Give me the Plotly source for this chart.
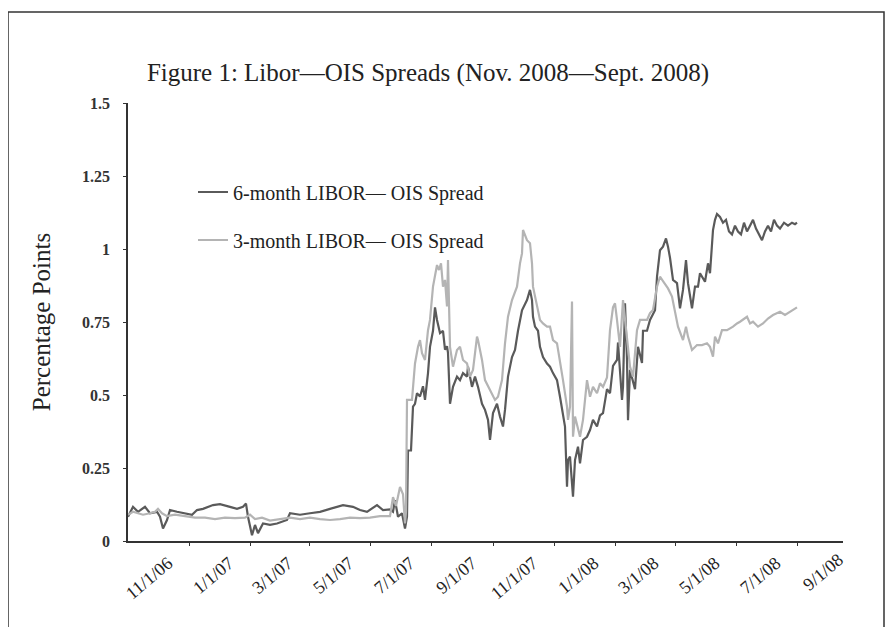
import plotly.graph_objects as go

# ---------------- data ----------------
dates_6m = [
    "2006-09-01", "2006-09-06", "2006-09-11", "2006-09-18", "2006-09-23", "2006-09-30",
    "2006-10-03", "2006-10-06", "2006-10-10", "2006-10-13", "2006-10-20", "2006-10-30",
    "2006-11-04", "2006-11-09", "2006-11-15", "2006-11-25", "2006-12-02", "2006-12-12",
    "2006-12-19", "2006-12-25", "2006-12-28", "2006-12-30", "2007-01-03", "2007-01-06",
    "2007-01-09", "2007-01-14", "2007-01-21", "2007-01-28", "2007-02-07", "2007-02-10",
    "2007-02-20", "2007-03-02", "2007-03-12", "2007-03-22", "2007-04-04", "2007-04-14",
    "2007-04-21", "2007-04-28", "2007-05-08", "2007-05-14", "2007-05-21", "2007-05-24",
    "2007-05-26", "2007-05-29", "2007-06-02", "2007-06-05", "2007-06-07", "2007-06-08",
    "2007-06-11", "2007-06-13", "2007-06-15", "2007-06-17", "2007-06-20", "2007-06-23",
    "2007-06-25", "2007-06-28", "2007-06-30", "2007-07-03", "2007-07-05", "2007-07-07",
    "2007-07-10", "2007-07-13", "2007-07-15", "2007-07-17", "2007-07-18", "2007-07-20",
    "2007-07-23", "2007-07-27", "2007-07-30", "2007-08-02", "2007-08-06", "2007-08-07",
    "2007-08-11", "2007-08-14", "2007-08-17", "2007-08-21", "2007-08-24", "2007-08-27",
    "2007-08-29", "2007-09-01", "2007-09-05", "2007-09-08", "2007-09-11", "2007-09-13",
    "2007-09-16", "2007-09-20", "2007-09-23", "2007-09-26", "2007-09-30", "2007-10-05",
    "2007-10-08", "2007-10-10", "2007-10-11", "2007-10-13", "2007-10-16", "2007-10-18",
    "2007-10-21", "2007-10-25", "2007-10-28", "2007-10-31", "2007-11-04", "2007-11-07",
    "2007-11-10", "2007-11-12", "2007-11-14", "2007-11-15", "2007-11-17", "2007-11-19",
    "2007-11-20", "2007-11-22", "2007-11-25", "2007-11-27", "2007-11-30", "2007-12-04",
    "2007-12-07", "2007-12-10", "2007-12-14", "2007-12-17", "2007-12-20", "2007-12-24",
    "2007-12-27", "2007-12-30", "2008-01-03", "2008-01-04", "2008-01-06", "2008-01-08",
    "2008-01-09", "2008-01-11", "2008-01-13", "2008-01-14", "2008-01-16", "2008-01-18",
    "2008-01-21", "2008-01-24", "2008-01-28", "2008-01-29", "2008-02-02", "2008-02-05",
    "2008-02-08", "2008-02-10", "2008-02-12", "2008-02-15", "2008-02-18", "2008-02-21",
    "2008-02-23", "2008-02-25", "2008-02-28", "2008-03-03", "2008-03-06", "2008-03-09",
    "2008-03-12", "2008-03-14", "2008-03-18", "2008-03-21", "2008-03-24", "2008-03-26",
    "2008-03-31", "2008-04-03", "2008-04-05", "2008-04-07", "2008-04-08", "2008-04-10",
    "2008-04-12", "2008-04-15", "2008-04-18", "2008-04-21", "2008-04-24", "2008-04-27",
    "2008-04-30", "2008-05-03", "2008-05-06", "2008-05-09", "2008-05-12", "2008-05-15",
    "2008-05-18", "2008-05-21", "2008-05-24", "2008-05-27", "2008-05-30", "2008-06-02",
    "2008-06-05", "2008-06-08", "2008-06-11", "2008-06-14", "2008-06-18", "2008-06-22",
    "2008-06-26", "2008-06-29", "2008-07-01",
]
spread_6m = [
    0.083, 0.117, 0.100, 0.117, 0.095, 0.100,
    0.083, 0.043, 0.072, 0.106, 0.100, 0.095,
    0.090, 0.106, 0.110, 0.123, 0.126, 0.117,
    0.110, 0.117, 0.128, 0.083, 0.020, 0.055,
    0.027, 0.060, 0.055, 0.060, 0.072, 0.095,
    0.090, 0.095, 0.100, 0.110, 0.123, 0.117,
    0.106, 0.100, 0.123, 0.106, 0.108, 0.100,
    0.140, 0.083, 0.095, 0.043, 0.083, 0.310,
    0.310, 0.460, 0.470, 0.506, 0.495, 0.530,
    0.483, 0.575, 0.665, 0.720, 0.800, 0.757,
    0.712, 0.720, 0.655, 0.667, 0.644, 0.470,
    0.528, 0.563, 0.551, 0.575, 0.563, 0.597,
    0.528, 0.563, 0.528, 0.470, 0.449, 0.415,
    0.346, 0.438, 0.470, 0.426, 0.392, 0.449,
    0.563, 0.630, 0.654, 0.720, 0.790, 0.825,
    0.860, 0.825, 0.768, 0.734, 0.720, 0.665,
    0.630, 0.608, 0.597, 0.575, 0.551, 0.494,
    0.437, 0.392, 0.186, 0.277, 0.289, 0.209,
    0.152, 0.277, 0.323, 0.266, 0.346, 0.357,
    0.380, 0.415, 0.392, 0.430, 0.438, 0.520,
    0.506, 0.600, 0.620, 0.680, 0.586, 0.483,
    0.528, 0.814, 0.620, 0.414, 0.586, 0.563,
    0.520, 0.665, 0.610, 0.720, 0.720, 0.757,
    0.780, 0.790, 0.905, 0.996, 1.008, 1.036,
    1.008, 0.970, 0.894, 0.883, 0.797, 0.860,
    0.962, 0.883, 0.797, 0.871, 0.871, 0.917,
    0.888, 0.951, 0.917, 0.996, 1.065, 1.100,
    1.120, 1.110, 1.090, 1.100, 1.060, 1.050,
    1.080, 1.060, 1.050, 1.090, 1.060, 1.080,
    1.100, 1.070, 1.050, 1.030, 1.060, 1.080,
    1.060, 1.100, 1.080, 1.070, 1.090, 1.080,
    1.090, 1.085, 1.090,
]

dates_3m = [
    "2006-09-01", "2006-09-06", "2006-09-11", "2006-09-16", "2006-09-23", "2006-09-28",
    "2006-10-01", "2006-10-05", "2006-10-10", "2006-10-18", "2006-10-28", "2006-11-07",
    "2006-11-17", "2006-11-27", "2006-12-07", "2006-12-17", "2006-12-27", "2007-01-01",
    "2007-01-06", "2007-01-13", "2007-01-21", "2007-01-31", "2007-02-10", "2007-02-20",
    "2007-03-02", "2007-03-12", "2007-03-22", "2007-04-01", "2007-04-11", "2007-04-21",
    "2007-05-01", "2007-05-11", "2007-05-21", "2007-05-24", "2007-05-27", "2007-05-31",
    "2007-06-03", "2007-06-05", "2007-06-06", "2007-06-07", "2007-06-12", "2007-06-15",
    "2007-06-18", "2007-06-20", "2007-06-22", "2007-06-25", "2007-06-28", "2007-06-30",
    "2007-07-03", "2007-07-07", "2007-07-09", "2007-07-11", "2007-07-13", "2007-07-15",
    "2007-07-17", "2007-07-18", "2007-07-20", "2007-07-23", "2007-07-27", "2007-07-30",
    "2007-08-02", "2007-08-06", "2007-08-09", "2007-08-12", "2007-08-16", "2007-08-17",
    "2007-08-21", "2007-08-24", "2007-08-29", "2007-09-03", "2007-09-06", "2007-09-10",
    "2007-09-13", "2007-09-16", "2007-09-20", "2007-09-25", "2007-09-28", "2007-09-30",
    "2007-10-01", "2007-10-05", "2007-10-08", "2007-10-10", "2007-10-11", "2007-10-15",
    "2007-10-18", "2007-10-21", "2007-10-25", "2007-10-28", "2007-10-31", "2007-11-04",
    "2007-11-07", "2007-11-10", "2007-11-14", "2007-11-15", "2007-11-17", "2007-11-19",
    "2007-11-20", "2007-11-22", "2007-11-27", "2007-11-30", "2007-12-04", "2007-12-07",
    "2007-12-10", "2007-12-14", "2007-12-17", "2007-12-20", "2007-12-24", "2007-12-27",
    "2007-12-30", "2008-01-01", "2008-01-03", "2008-01-06", "2008-01-09", "2008-01-13",
    "2008-01-16", "2008-01-19", "2008-01-23", "2008-01-26", "2008-02-02", "2008-02-05",
    "2008-02-08", "2008-02-12", "2008-02-15", "2008-02-18", "2008-02-23", "2008-02-27",
    "2008-03-01", "2008-03-04", "2008-03-09", "2008-03-12", "2008-03-14", "2008-03-18",
    "2008-03-23", "2008-03-28", "2008-04-02", "2008-04-05", "2008-04-08", "2008-04-10",
    "2008-04-13", "2008-04-17", "2008-04-22", "2008-04-28", "2008-05-02", "2008-05-05",
    "2008-05-12", "2008-05-15", "2008-05-18", "2008-05-23", "2008-05-28", "2008-06-02",
    "2008-06-07", "2008-06-14", "2008-06-19", "2008-06-24", "2008-07-01",
]
spread_3m = [
    0.090, 0.100, 0.095, 0.090, 0.095, 0.100,
    0.110, 0.095, 0.085, 0.090, 0.085, 0.080,
    0.080, 0.075, 0.080, 0.078, 0.080, 0.090,
    0.075, 0.080, 0.070, 0.075, 0.080, 0.075,
    0.080, 0.075, 0.072, 0.075, 0.080, 0.078,
    0.080, 0.085, 0.085, 0.150, 0.120, 0.185,
    0.160, 0.060, 0.100, 0.483, 0.483, 0.608,
    0.665, 0.688, 0.643, 0.620, 0.722, 0.757,
    0.871, 0.945, 0.928, 0.951, 0.871, 0.894,
    0.803, 0.962, 0.665, 0.597, 0.654, 0.665,
    0.620, 0.608, 0.563, 0.586, 0.700, 0.688,
    0.620, 0.551, 0.517, 0.483, 0.494, 0.551,
    0.677, 0.768, 0.825, 0.871, 0.951, 0.985,
    1.065, 1.030, 1.020, 0.951, 0.871, 0.803,
    0.757, 0.745, 0.734, 0.734, 0.688, 0.677,
    0.620, 0.551, 0.460, 0.415, 0.460, 0.820,
    0.357, 0.426, 0.357, 0.415, 0.551, 0.494,
    0.528, 0.506, 0.540, 0.528, 0.560, 0.722,
    0.800, 0.814, 0.757, 0.665, 0.825, 0.688,
    0.597, 0.563, 0.722, 0.757, 0.757, 0.780,
    0.791, 0.871, 0.905, 0.890, 0.865, 0.837,
    0.791, 0.734, 0.688, 0.734, 0.700, 0.654,
    0.671, 0.671, 0.677, 0.665, 0.631, 0.700,
    0.677, 0.722, 0.722, 0.734, 0.745, 0.751,
    0.768, 0.745, 0.751, 0.734, 0.745, 0.762,
    0.774, 0.785, 0.774, 0.785, 0.800,
]

tick_dates = ["2006-11-01", "2007-01-01", "2007-03-01", "2007-05-01", "2007-07-01",
              "2007-09-01", "2007-11-01", "2008-01-01", "2008-03-01", "2008-05-01",
              "2008-07-01"]
tick_labels = ["11/1/06", "1/1/07", "3/1/07", "5/1/07", "7/1/07", "9/1/07",
               "11/1/07", "1/1/08", "3/1/08", "5/1/08", "7/1/08"]
last_tick_label = "9/1/08"

y_ticks = [0, 0.25, 0.5, 0.75, 1, 1.25, 1.5]
y_tick_labels = ["0", "0.25", "0.5", "0.75", "1", "1.25", "1.5"]

name_6m = "6-month LIBOR— OIS Spread"
name_3m = "3-month LIBOR— OIS Spread"
title_text = "Figure 1: Libor—OIS Spreads (Nov. 2008—Sept. 2008)"
y_title = "Percentage Points"

# ---------------- figure ----------------
SERIF = "Liberation Serif, Times New Roman, serif"
DARK = "#5a5a5a"
LIGHT = "#b4b4b4"

# page body has an 8px margin: the figure is laid out in page pixels minus 8
OFF = 8
W, H = 893 - OFF, 627 - OFF
L, T = 128 - OFF, 103 - OFF          # plot area left / top in figure pixels
PW, PH = 715, 438                    # plot area size
R, B = W - L - PW, H - T - PH

def px_x(p):          # page x pixel -> paper fraction
    return (p - 128) / PW

def px_y(p):          # page y pixel -> paper fraction
    return (541 - p) / PH

fig = go.Figure()
fig.add_trace(go.Scatter(x=dates_6m, y=spread_6m, mode="lines", name=name_6m,
                         line=dict(color=DARK, width=2.2), legend="legend",
                         showlegend=True))
fig.add_trace(go.Scatter(x=dates_3m, y=spread_3m, mode="lines", name=name_3m,
                         line=dict(color=LIGHT, width=2.2), legend="legend2",
                         showlegend=True))

legend_common = dict(font=dict(family=SERIF, size=20, color="#222"),
                     bgcolor="rgba(0,0,0,0)", borderwidth=0,
                     xanchor="left", yanchor="middle", itemwidth=30)

fig.update_layout(
    width=W, height=H, showlegend=True,
    margin=dict(l=L, r=R, t=T, b=B, autoexpand=False),
    paper_bgcolor="white", plot_bgcolor="white",
    title=dict(text=title_text, x=(428 - OFF) / W, xanchor="center",
               y=1 - (72 - OFF) / H, yanchor="middle",
               font=dict(family=SERIF, size=25, color="#222")),
    legend=dict(x=px_x(193), y=px_y(192), **legend_common),
    legend2=dict(x=px_x(193), y=px_y(240), **legend_common),
    xaxis=dict(type="date", range=["2006-09-01", "2008-08-16"],
               tickvals=tick_dates, ticktext=tick_labels, tickangle=-40,
               ticklabelshift=-21, ticklabelstandoff=0,
               showgrid=False, zeroline=False, showline=True, linecolor="#333",
               linewidth=1.5, ticks="outside", ticklen=3, tickcolor="#333",
               tickfont=dict(family=SERIF, size=18, color="#222")),
    yaxis=dict(range=[0, 1.5], tickvals=y_ticks, ticktext=y_tick_labels,
               showgrid=False, zeroline=False, showline=True, linecolor="#333",
               linewidth=1.5, ticks="outside", ticklen=3, tickcolor="#333",
               ticklabelstandoff=10,
               tickfont=dict(family=SERIF, size=16, color="#333", weight="bold"),
               title=dict(text=y_title, standoff=24,
                          font=dict(family=SERIF, size=25, color="#222"))),
    shapes=[dict(type="rect", xref="paper", yref="paper",
                 x0=px_x(8), x1=px_x(884), y0=px_y(650), y1=px_y(12),
                 line=dict(color="#333", width=1.5), fillcolor="rgba(0,0,0,0)")],
    annotations=[dict(x=px_x(823), y=px_y(572), xref="paper", yref="paper",
                      text=last_tick_label, showarrow=False, textangle=-40,
                      xanchor="center", yanchor="middle",
                      font=dict(family=SERIF, size=18, color="#222"))],
)

fig.write_html("out.html")
